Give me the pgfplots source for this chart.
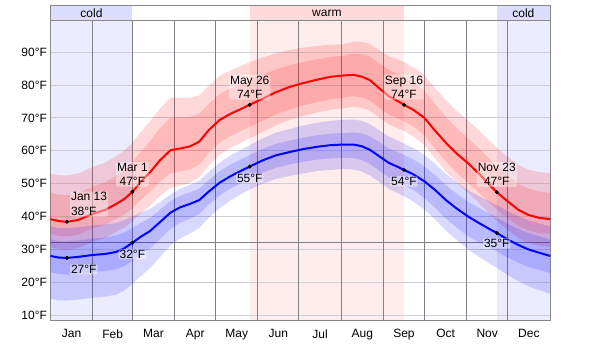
\documentclass[border=0pt]{standalone}
\usepackage{pgfplots}
\pgfplotsset{compat=1.18}
\usepackage{pgfplotstable}
\usepgfplotslibrary{fillbetween}
\usepackage{fontspec}
\setmainfont{Liberation Sans}
\definecolor{coldbg}{RGB}{236,236,255}
\definecolor{coldhd}{RGB}{221,221,255}
\definecolor{warmbg}{RGB}{255,236,236}
\definecolor{warmhd}{RGB}{255,218,218}
\definecolor{framegray}{RGB}{136,136,136}
\definecolor{monthgray}{RGB}{128,128,136}
\definecolor{gridgray}{RGB}{206,206,214}

% d = day of year; h = average high, o10..o90 = percentile offsets of the high
% l = average low, p10..p90 = percentile offsets of the low
\pgfplotstableread{
d    h     o10   o25  o75  o90   l     p10   p25  p75 p90
0    39.2 -8.5 -4.5 8.0 14.0  28.0 -13.0 -5.0 5.0 9.0
6    38.6 -8.5 -4.5 8.0 14.0  27.5 -13.0 -5.0 5.0 9.0
12   38.4 -8.5 -4.5 8.1 14.1  27.4 -13.0 -5.1 5.0 9.0
20   38.9 -8.5 -4.5 8.2 14.2  27.7 -13.0 -5.1 5.0 9.0
31   40.8 -8.5 -4.5 8.3 14.3  28.3 -13.0 -5.2 5.0 9.0
40   42.0 -8.5 -4.5 8.4 14.4  28.6 -13.0 -5.2 5.0 9.0
48   43.8 -8.5 -4.5 8.5 14.5  29.2 -13.0 -5.3 5.0 8.8
54   45.3 -8.7 -4.7 8.7 14.7  30.3 -12.8 -5.4 4.8 8.5
60   47.5 -9.0 -5.0 9.0 15.0  32.0 -12.5 -5.5 4.5 8.0
66   50.5 -9.5 -5.5 9.2 15.2  33.8 -12.0 -5.4 4.3 7.4
73   53.5 -10.2 -6.0 9.5 15.5 35.6 -11.3 -5.3 4.0 6.7
80   57.0 -10.8 -6.5 9.8 15.8 38.2 -10.7 -5.1 3.8 6.1
88   60.2 -11.5 -7.0 10.0 16.0 41.2 -10.0 -5.0 3.5 5.5
95   60.7 -11.3 -7.0 9.5 15.4 42.8 -9.5 -4.7 3.5 5.6
102  61.3 -11.1 -7.0 9.0 14.8 43.8 -9.0 -4.5 3.5 5.8
109  62.8 -10.9 -7.0 8.5 14.1 45.0 -8.5 -4.2 3.5 5.9
116  66.3 -10.7 -7.0 8.0 13.5 47.6 -8.0 -4.0 3.5 6.0
124  69.4 -10.6 -6.9 7.9 13.4 50.3 -7.7 -3.9 3.5 6.1
132  71.3 -10.4 -6.8 7.7 13.2 52.3 -7.4 -3.8 3.5 6.3
140  72.8 -10.3 -6.7 7.6 13.1 54.0 -7.1 -3.7 3.5 6.4
146  74.0 -10.2 -6.7 7.5 13.0 55.2 -7.0 -3.6 3.5 6.5
155  75.8 -10.1 -6.7 7.2 12.5 57.0 -7.1 -3.7 3.5 6.7
165  77.8 -10.1 -6.8 6.9 11.9 58.6 -7.2 -3.8 3.5 6.9
175  79.4 -10.0 -6.8 6.6 11.3 59.6 -7.3 -3.8 3.5 7.0
185  80.6 -10.0 -6.8 6.4 10.8 60.5 -7.4 -3.9 3.5 7.2
195  81.6 -10.0 -6.8 6.2 10.3 61.2 -7.4 -3.9 3.5 7.3
205  82.5 -10.0 -6.8 6.1 9.8  61.7 -7.5 -4.0 3.5 7.4
214  82.9 -10.0 -6.8 6.0 9.5  61.9 -7.5 -4.0 3.5 7.5
222  83.1 -9.7 -6.5 6.5 10.1  61.9 -7.6 -4.1 3.7 7.6
228  82.6 -9.5 -6.3 6.8 10.6  61.4 -7.7 -4.2 3.9 7.7
234  81.5 -9.2 -6.2 7.2 11.0  60.3 -7.8 -4.3 4.1 7.8
241  79.0 -9.0 -6.0 7.5 11.5  58.3 -7.8 -4.4 4.3 7.9
248  76.6 -8.6 -5.6 8.0 12.2  56.3 -7.9 -4.5 4.4 8.0
255  75.0 -8.2 -5.2 8.3 12.7  55.0 -8.0 -4.6 4.5 8.0
259  74.0 -8.0 -5.0 8.5 13.0  54.2 -8.0 -4.6 4.5 8.0
266  72.4 -8.1 -5.1 8.4 13.0  52.8 -8.3 -4.8 4.5 8.0
274  70.0 -8.3 -5.3 8.3 13.0  50.7 -8.6 -5.1 4.5 8.0
282  66.0 -8.5 -5.5 8.1 13.0  48.0 -8.9 -5.4 4.5 8.0
290  62.3 -8.7 -5.7 7.9 13.0  44.9 -9.3 -5.6 4.5 8.0
298  59.0 -8.8 -5.8 7.7 13.0  42.3 -9.6 -5.8 4.5 8.0
306  56.2 -9.0 -6.0 7.6 13.0  40.0 -10.0 -6.0 4.5 8.0
314  53.0 -8.9 -5.8 7.7 13.2  38.0 -10.3 -5.9 4.6 8.2
322  49.5 -8.8 -5.5 7.8 13.4  36.1 -10.5 -5.7 4.7 8.4
327  47.4 -8.7 -5.3 7.8 13.5  35.0 -10.6 -5.6 4.7 8.5
335  44.6 -8.7 -5.1 7.9 13.6  33.0 -10.8 -5.5 4.8 8.6
343  42.0 -8.6 -4.9 7.9 13.7  31.3 -11.0 -5.4 4.9 8.7
350  40.5 -8.6 -4.7 8.0 13.8  30.0 -11.2 -5.3 4.9 8.8
358  39.6 -8.5 -4.6 8.0 13.9  29.0 -11.4 -5.2 5.0 8.9
366  39.2 -8.5 -4.5 8.0 14.0  28.0 -11.5 -5.2 5.0 9.0
}\temps

\begin{document}
\begin{tikzpicture}[x=1pt,y=1pt]
\path (0,0) rectangle (600,344);
\begin{axis}[
  set layers,
  at={(50.5pt,23pt)}, anchor=south west,
  scale only axis, width=499.5pt, height=300pt,
  xmin=0, xmax=366, ymin=8.2, ymax=99.5,
  clip=false,
  axis line style={draw=framegray, line width=1pt},
  xtick={15.5,45.5,75.5,106,136.5,167,197.5,228.5,259,289.5,320,350.5},
  xticklabels={Jan,Feb,Mar,Apr,May,Jun,Jul,Aug,Sep,Oct,Nov,Dec},
  xticklabel style={yshift=-5pt},
  extra x ticks={31,60,91,121,152,182,213,244,274,305,335},
  extra x tick labels={},
  extra x tick style={grid=major, major grid style={draw=monthgray, line width=1pt}},
  ytick={10,20,...,90},
  yticklabel={\pgfmathprintnumber{\tick}°F},
  ymajorgrids,
  major grid style={draw=gridgray, line width=1pt},
  extra y ticks={32},
  extra y tick labels={},
  extra y tick style={grid=major, major grid style={draw=monthgray, line width=1pt}},
  major tick length=0pt,
  /pgf/number format/assume math mode=true,
  tick label style={font=\fontsize{12}{14}\selectfont, text=black},
]
\pgfplotsextra{%
\begin{pgfonlayer}{axis background}
\fill[coldbg] (axis cs:0,8.2) rectangle (axis cs:60,99.5);
\fill[warmbg] (axis cs:146,8.2) rectangle (axis cs:259,99.5);
\fill[coldbg] (axis cs:327,8.2) rectangle (axis cs:366,99.5);
\end{pgfonlayer}}

% header season bar
\fill[coldhd] (axis cs:0,99.5) rectangle (axis cs:60,104.1);
\fill[warmhd] (axis cs:146,99.5) rectangle (axis cs:259,104.1);
\fill[coldhd] (axis cs:327,99.5) rectangle (axis cs:366,104.1);
\draw[framegray, line width=1pt] (axis cs:0,99.5) rectangle (axis cs:366,104.1);
\node[font=\fontsize{12}{14}\selectfont] at (axis cs:30,101.8) {cold};
\node[font=\fontsize{12}{14}\selectfont] at (axis cs:202.5,101.8) {warm};
\node[font=\fontsize{12}{14}\selectfont] at (axis cs:346.5,101.8) {cold};

% high temperature bands
\addplot[draw=none, name path=h90] table[x=d, y expr=\thisrow{h}+\thisrow{o90}] {\temps};
\addplot[draw=none, name path=h10] table[x=d, y expr=\thisrow{h}+\thisrow{o10}] {\temps};
\addplot[draw=none, name path=h75] table[x=d, y expr=\thisrow{h}+\thisrow{o75}] {\temps};
\addplot[draw=none, name path=h25] table[x=d, y expr=\thisrow{h}+\thisrow{o25}] {\temps};
\addplot[fill=red, fill opacity=0.15, draw=none] fill between[of=h90 and h10];
\addplot[fill=red, fill opacity=0.15, draw=none] fill between[of=h75 and h25];

% low temperature bands
\addplot[draw=none, name path=l90] table[x=d, y expr=\thisrow{l}+\thisrow{p90}] {\temps};
\addplot[draw=none, name path=l10] table[x=d, y expr=\thisrow{l}+\thisrow{p10}] {\temps};
\addplot[draw=none, name path=l75] table[x=d, y expr=\thisrow{l}+\thisrow{p75}] {\temps};
\addplot[draw=none, name path=l25] table[x=d, y expr=\thisrow{l}+\thisrow{p25}] {\temps};
\addplot[fill=blue, fill opacity=0.15, draw=none] fill between[of=l90 and l10];
\addplot[fill=blue, fill opacity=0.15, draw=none] fill between[of=l75 and l25];

% average lines
\addplot[red, line width=2pt] table[x=d, y=h] {\temps};
\addplot[blue, line width=2pt] table[x=d, y=l] {\temps};

% marked days
\addplot[only marks, mark=*, mark size=1.8pt, black] coordinates {(12,38.4) (60,47.5) (146,74) (259,74) (327,47.4)};
\addplot[only marks, mark=*, mark size=1.8pt, black] coordinates {(12,27.4) (60,32) (146,55.2) (259,54.2) (327,35)};

\tikzset{lbl/.style={font=\fontsize{12}{14.5}\selectfont, align=center, inner sep=1pt, fill=white, fill opacity=0.4, text opacity=1, rounded corners=2pt}}
\node[lbl, anchor=south west, xshift=3pt, yshift=5pt, align=left] at (axis cs:12,38.4) {Jan 13\\38°F};
\node[lbl, anchor=south, yshift=5pt] at (axis cs:60,47.5) {Mar 1\\47°F};
\node[lbl, anchor=south, yshift=5pt] at (axis cs:146,74) {May 26\\74°F};
\node[lbl, anchor=south, yshift=5pt] at (axis cs:259,74) {Sep 16\\74°F};
\node[lbl, anchor=south, yshift=5pt] at (axis cs:327,47.4) {Nov 23\\47°F};
\node[lbl, anchor=north west, xshift=3pt, yshift=-6pt] at (axis cs:12,27.4) {27°F};
\node[lbl, anchor=north, yshift=-6pt] at (axis cs:60,32) {32°F};
\node[lbl, anchor=north, yshift=-6pt] at (axis cs:146,55.2) {55°F};
\node[lbl, anchor=north, yshift=-6pt] at (axis cs:259,54.2) {54°F};
\node[lbl, anchor=north, yshift=-5pt] at (axis cs:327,35) {35°F};
\end{axis}
\end{tikzpicture}
\end{document}
